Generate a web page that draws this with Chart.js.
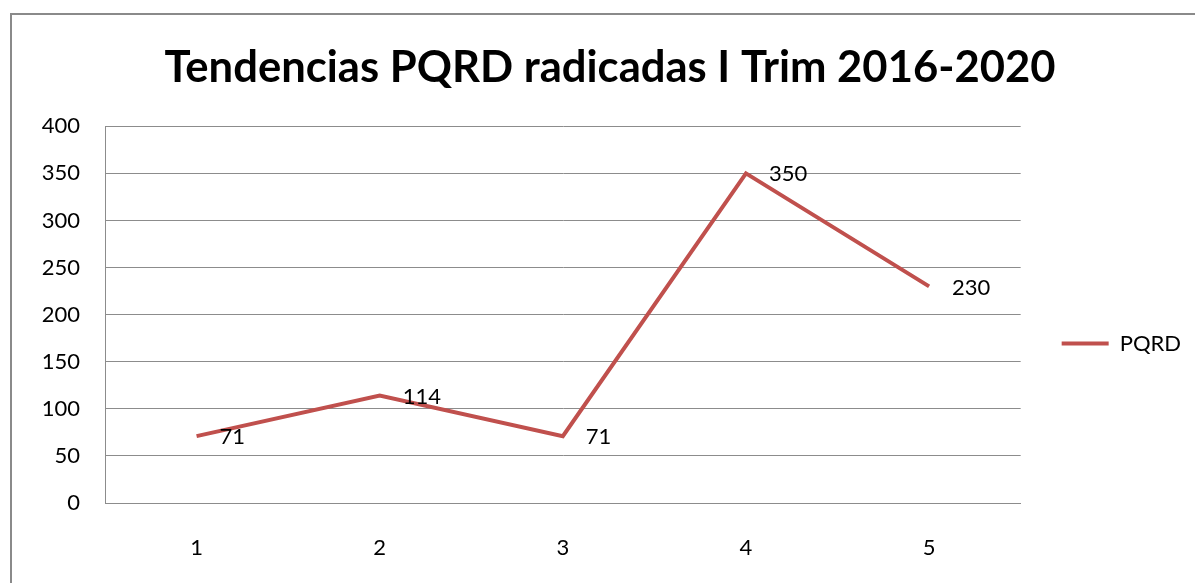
<!DOCTYPE html>
<html>
<head>
<meta charset="utf-8">
<script src="https://cdn.jsdelivr.net/npm/chart.js@4/dist/chart.umd.min.js"></script>
<style>
  html, body { margin: 0; padding: 0; background: #fff; overflow: hidden; }
  #frame {
    position: absolute; left: 10px; top: 13px;
    width: 1200px; height: 600px;
    border: 2px solid #8a8a8a;
  }
  #chart { display: block; }
</style>
</head>
<body>
<div id="frame"><canvas id="chart" width="1200" height="600"></canvas></div>
<script>
const trimestres = ['1', '2', '3', '4', '5'];
const pqrd = [71, 114, 71, 350, 230];
const serieNombre = 'PQRD';
const titulo = 'Tendencias PQRD radicadas I Trim 2016-2020';

const FONT = 'Lato';
const ROJO = '#C0504D';
const GRIS = '#8c8c8c';

// etiquetas de valor a la derecha de cada punto
const valueLabels = {
  id: 'valueLabels',
  afterDatasetsDraw(chart) {
    const ctx = chart.ctx;
    const meta = chart.getDatasetMeta(0);
    ctx.save();
    ctx.font = `22px ${FONT}`;
    ctx.fillStyle = '#000';
    ctx.textAlign = 'left';
    ctx.textBaseline = 'middle';
    meta.data.forEach((pt, i) => ctx.fillText(String(pqrd[i]), pt.x + 23, pt.y + 1));
    ctx.restore();
  }
};

new Chart(document.getElementById('chart'), {
  type: 'line',
  data: {
    labels: trimestres,
    datasets: [{
      label: serieNombre,
      data: pqrd,
      borderColor: ROJO,
      backgroundColor: ROJO,
      borderWidth: 4,
      pointRadius: 0,
      tension: 0,
      fill: false
    }]
  },
  options: {
    responsive: false,
    animation: false,
    layout: { padding: { left: 17, right: 21, top: 0, bottom: 0 } },
    plugins: {
      title: {
        display: true,
        text: titulo,
        color: '#000',
        font: { family: FONT, size: 43.6, weight: 'bold' },
        padding: { top: 27, bottom: 32 }
      },
      legend: {
        position: 'right',
        // titulo vacio para bajar la leyenda como en el original
        title: { display: true, text: ' ', font: { size: 20 }, padding: { top: 0, bottom: 33 } },
        labels: {
          boxWidth: 47,
          boxHeight: 4,
          color: '#000',
          font: { family: FONT, size: 22 },
          padding: 41,
          generateLabels: chart => Chart.defaults.plugins.legend.labels.generateLabels(chart)
            .map(l => ({ ...l, lineWidth: 0 }))
        }
      },
      tooltip: { enabled: false }
    },
    scales: {
      x: {
        offset: true,
        grid: { display: false, drawTicks: false },
        border: { display: true, color: GRIS, width: 1 },
        ticks: { color: '#000', font: { family: FONT, size: 22 }, padding: 32 },
        afterFit: s => { s.height = 112; }
      },
      y: {
        min: 0,
        max: 400,
        ticks: { stepSize: 50, color: '#000', font: { family: FONT, size: 22 }, padding: 25 },
        grid: { color: GRIS, lineWidth: 1, drawTicks: false },
        border: { display: true, color: GRIS, width: 1 },
        afterFit: s => { s.width = 76; }
      }
    }
  },
  plugins: [valueLabels]
});
</script>
</body>
</html>
